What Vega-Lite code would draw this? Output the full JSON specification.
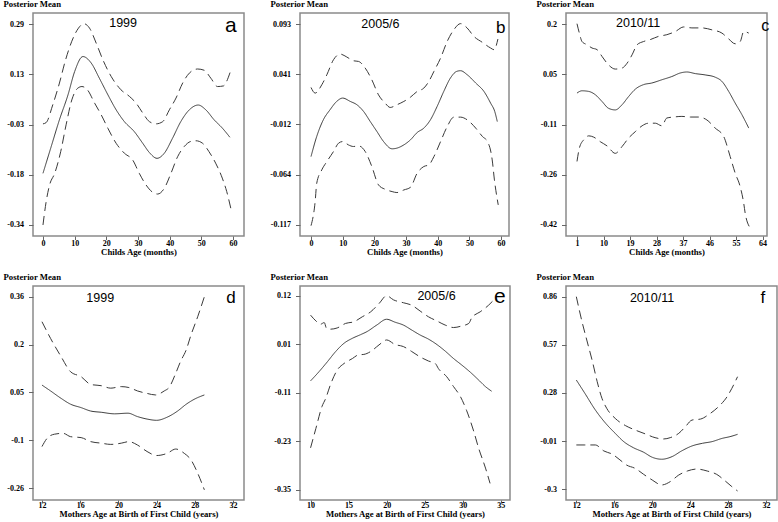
{
 "$schema": "https://vega.github.io/schema/vega-lite/v6.json",
 "background": "white",
 "padding": {"left": 2, "top": -2, "right": 0, "bottom": 0},
 "columns": 3,
 "spacing": {"row": 50, "column": 56},
 "bounds": "flush",
 "config": {
  "view": {"stroke": "#8a8a8a", "strokeWidth": 1.5},
  "axis": {"domain": false, "grid": false, "ticks": true, "tickCount": 20, "tickSize": 4.5, "tickColor": "#666", "labelOverlap": false, "labelFont": "Liberation Serif", "labelFontWeight": "bold", "labelFontSize": 8, "labelColor": "#000", "titleFont": "Liberation Serif", "titleFontWeight": "bold", "titleFontSize": 8.7, "titleColor": "#000"},
  "axisX": {"labelPadding": 0, "titlePadding": 0, "tickSize": 3.5},
  "axisY": {"labelPadding": 5, "titleAngle": 0, "titleAlign": "left", "titleBaseline": "alphabetic", "titleX": -30, "titleY": -6.6}
 },
 "datasets": {
  "a": [
   {"x":0,"y":-0.178,"s":"mean"},{"x":2.6,"y":-0.094,"s":"mean"},{"x":5.2,"y":-0.01,"s":"mean"},{"x":7.9,"y":0.068,"s":"mean"},{"x":10,"y":0.141,"s":"mean"},{"x":12.6,"y":0.188,"s":"mean"},{"x":15.2,"y":0.168,"s":"mean"},{"x":17.8,"y":0.12,"s":"mean"},{"x":20.5,"y":0.068,"s":"mean"},{"x":23.1,"y":0.021,"s":"mean"},{"x":25.7,"y":-0.016,"s":"mean"},{"x":28.8,"y":-0.047,"s":"mean"},{"x":31.5,"y":-0.084,"s":"mean"},{"x":33.6,"y":-0.113,"s":"mean"},{"x":36,"y":-0.131,"s":"mean"},{"x":38.3,"y":-0.115,"s":"mean"},{"x":40.9,"y":-0.068,"s":"mean"},{"x":43.5,"y":-0.016,"s":"mean"},{"x":46.2,"y":0.021,"s":"mean"},{"x":49,"y":0.036,"s":"mean"},{"x":51.4,"y":0.021,"s":"mean"},{"x":54,"y":-0.01,"s":"mean"},{"x":56.6,"y":-0.036,"s":"mean"},{"x":59,"y":-0.065,"s":"mean"},
   {"x":0,"y":-0.023,"s":"upper"},{"x":1,"y":-0.019,"s":"upper"},{"x":3.1,"y":0.037,"s":"upper"},{"x":5.2,"y":0.105,"s":"upper"},{"x":7,"y":0.173,"s":"upper"},{"x":9.1,"y":0.236,"s":"upper"},{"x":11.2,"y":0.277,"s":"upper"},{"x":12.9,"y":0.291,"s":"upper"},{"x":14.7,"y":0.277,"s":"upper"},{"x":16.8,"y":0.23,"s":"upper"},{"x":18.9,"y":0.178,"s":"upper"},{"x":21.5,"y":0.126,"s":"upper"},{"x":24.6,"y":0.084,"s":"upper"},{"x":27.3,"y":0.063,"s":"upper"},{"x":29.4,"y":0.042,"s":"upper"},{"x":31.5,"y":0.011,"s":"upper"},{"x":33.6,"y":-0.016,"s":"upper"},{"x":35.7,"y":-0.023,"s":"upper"},{"x":37.8,"y":-0.016,"s":"upper"},{"x":39.9,"y":0.021,"s":"upper"},{"x":42,"y":0.058,"s":"upper"},{"x":44.1,"y":0.105,"s":"upper"},{"x":46.2,"y":0.136,"s":"upper"},{"x":48.8,"y":0.149,"s":"upper"},{"x":50.9,"y":0.145,"s":"upper"},{"x":53,"y":0.12,"s":"upper"},{"x":55.1,"y":0.094,"s":"upper"},{"x":57,"y":0.096,"s":"upper"},{"x":57.7,"y":0.105,"s":"upper"},{"x":59.3,"y":0.145,"s":"upper"},
   {"x":0,"y":-0.34,"s":"lower"},{"x":1,"y":-0.267,"s":"lower"},{"x":2.1,"y":-0.214,"s":"lower"},{"x":3.7,"y":-0.178,"s":"lower"},{"x":5.6,"y":-0.11,"s":"lower"},{"x":7.3,"y":-0.026,"s":"lower"},{"x":9.1,"y":0.052,"s":"lower"},{"x":11,"y":0.089,"s":"lower"},{"x":12.3,"y":0.094,"s":"lower"},{"x":14,"y":0.084,"s":"lower"},{"x":16.3,"y":0.042,"s":"lower"},{"x":18.4,"y":0.005,"s":"lower"},{"x":20.5,"y":-0.037,"s":"lower"},{"x":23.1,"y":-0.084,"s":"lower"},{"x":25.7,"y":-0.115,"s":"lower"},{"x":28.3,"y":-0.136,"s":"lower"},{"x":30.4,"y":-0.178,"s":"lower"},{"x":32.5,"y":-0.214,"s":"lower"},{"x":34.7,"y":-0.238,"s":"lower"},{"x":36.2,"y":-0.243,"s":"lower"},{"x":38.3,"y":-0.225,"s":"lower"},{"x":40.4,"y":-0.178,"s":"lower"},{"x":42.5,"y":-0.126,"s":"lower"},{"x":44.6,"y":-0.094,"s":"lower"},{"x":46.7,"y":-0.078,"s":"lower"},{"x":48.3,"y":-0.076,"s":"lower"},{"x":50.4,"y":-0.084,"s":"lower"},{"x":52.4,"y":-0.11,"s":"lower"},{"x":54.5,"y":-0.146,"s":"lower"},{"x":56.6,"y":-0.193,"s":"lower"},{"x":58,"y":-0.235,"s":"lower"},{"x":59.3,"y":-0.288,"s":"lower"}
  ],
  "b": [
   {"x":0,"y":-0.0455,"s":"mean"},{"x":1.8,"y":-0.0245,"s":"mean"},{"x":3.9,"y":-0.007,"s":"mean"},{"x":6,"y":0.0034,"s":"mean"},{"x":8.1,"y":0.0121,"s":"mean"},{"x":10,"y":0.0156,"s":"mean"},{"x":12.4,"y":0.0121,"s":"mean"},{"x":14.5,"y":0.0086,"s":"mean"},{"x":16.6,"y":0.0016,"s":"mean"},{"x":18.7,"y":-0.0089,"s":"mean"},{"x":20.8,"y":-0.0193,"s":"mean"},{"x":22.9,"y":-0.0298,"s":"mean"},{"x":25.6,"y":-0.0374,"s":"mean"},{"x":27.1,"y":-0.0367,"s":"mean"},{"x":29.3,"y":-0.0333,"s":"mean"},{"x":31.4,"y":-0.028,"s":"mean"},{"x":33.5,"y":-0.0204,"s":"mean"},{"x":35.6,"y":-0.0158,"s":"mean"},{"x":37.7,"y":-0.0071,"s":"mean"},{"x":39.8,"y":0.0068,"s":"mean"},{"x":41.9,"y":0.0225,"s":"mean"},{"x":44,"y":0.0365,"s":"mean"},{"x":46,"y":0.0435,"s":"mean"},{"x":47.2,"y":0.0442,"s":"mean"},{"x":49.3,"y":0.04,"s":"mean"},{"x":52,"y":0.0313,"s":"mean"},{"x":54.6,"y":0.0225,"s":"mean"},{"x":56.7,"y":0.0103,"s":"mean"},{"x":58,"y":0.0016,"s":"mean"},{"x":58.8,"y":-0.0089,"s":"mean"},
   {"x":0,"y":0.0267,"s":"upper"},{"x":1.3,"y":0.0208,"s":"upper"},{"x":3.4,"y":0.0295,"s":"upper"},{"x":5,"y":0.04,"s":"upper"},{"x":7.1,"y":0.0557,"s":"upper"},{"x":9.2,"y":0.0616,"s":"upper"},{"x":11.3,"y":0.0585,"s":"upper"},{"x":13.4,"y":0.0546,"s":"upper"},{"x":15,"y":0.0539,"s":"upper"},{"x":17.1,"y":0.047,"s":"upper"},{"x":19.2,"y":0.0347,"s":"upper"},{"x":21.3,"y":0.019,"s":"upper"},{"x":23.4,"y":0.0103,"s":"upper"},{"x":25,"y":0.0058,"s":"upper"},{"x":27.1,"y":0.0086,"s":"upper"},{"x":29.3,"y":0.0121,"s":"upper"},{"x":31.4,"y":0.0166,"s":"upper"},{"x":33.5,"y":0.0225,"s":"upper"},{"x":35.6,"y":0.026,"s":"upper"},{"x":37.2,"y":0.033,"s":"upper"},{"x":38.8,"y":0.0435,"s":"upper"},{"x":40.9,"y":0.0574,"s":"upper"},{"x":43,"y":0.0749,"s":"upper"},{"x":45.1,"y":0.0871,"s":"upper"},{"x":47.2,"y":0.0934,"s":"upper"},{"x":49.3,"y":0.0888,"s":"upper"},{"x":51.4,"y":0.0801,"s":"upper"},{"x":54.1,"y":0.0738,"s":"upper"},{"x":56.7,"y":0.0679,"s":"upper"},{"x":57.8,"y":0.0661,"s":"upper"},{"x":59,"y":0.0773,"s":"upper"},
   {"x":0,"y":-0.1177,"s":"lower"},{"x":1.3,"y":-0.0926,"s":"lower"},{"x":1.8,"y":-0.0734,"s":"lower"},{"x":3.4,"y":-0.0594,"s":"lower"},{"x":5,"y":-0.0507,"s":"lower"},{"x":7.1,"y":-0.0402,"s":"lower"},{"x":8.7,"y":-0.0315,"s":"lower"},{"x":10,"y":-0.0298,"s":"lower"},{"x":11.8,"y":-0.0333,"s":"lower"},{"x":13.4,"y":-0.035,"s":"lower"},{"x":15,"y":-0.0343,"s":"lower"},{"x":17.1,"y":-0.0402,"s":"lower"},{"x":19.2,"y":-0.0559,"s":"lower"},{"x":21.3,"y":-0.0751,"s":"lower"},{"x":23.4,"y":-0.0797,"s":"lower"},{"x":25.6,"y":-0.0821,"s":"lower"},{"x":27.1,"y":-0.0831,"s":"lower"},{"x":29.3,"y":-0.0804,"s":"lower"},{"x":31.4,"y":-0.0776,"s":"lower"},{"x":33.5,"y":-0.0629,"s":"lower"},{"x":35.6,"y":-0.0559,"s":"lower"},{"x":37.2,"y":-0.0542,"s":"lower"},{"x":38.8,"y":-0.0455,"s":"lower"},{"x":40.9,"y":-0.0298,"s":"lower"},{"x":43,"y":-0.0141,"s":"lower"},{"x":45.1,"y":-0.0043,"s":"lower"},{"x":47.2,"y":-0.0043,"s":"lower"},{"x":49.3,"y":-0.0071,"s":"lower"},{"x":52,"y":-0.0158,"s":"lower"},{"x":54.1,"y":-0.0245,"s":"lower"},{"x":55.7,"y":-0.0298,"s":"lower"},{"x":57.2,"y":-0.049,"s":"lower"},{"x":57.9,"y":-0.0699,"s":"lower"},{"x":59.1,"y":-0.096,"s":"lower"}
  ],
  "c": [
   {"x":1,"y":-0.013,"s":"mean"},{"x":2.7,"y":-0.006,"s":"mean"},{"x":5,"y":-0.008,"s":"mean"},{"x":7.2,"y":-0.018,"s":"mean"},{"x":9.5,"y":-0.039,"s":"mean"},{"x":11.7,"y":-0.06,"s":"mean"},{"x":14,"y":-0.065,"s":"mean"},{"x":16.3,"y":-0.049,"s":"mean"},{"x":18.5,"y":-0.024,"s":"mean"},{"x":20.8,"y":-0.001,"s":"mean"},{"x":23.6,"y":0.013,"s":"mean"},{"x":26.4,"y":0.018,"s":"mean"},{"x":29.8,"y":0.028,"s":"mean"},{"x":33.2,"y":0.038,"s":"mean"},{"x":36.1,"y":0.049,"s":"mean"},{"x":38.3,"y":0.052,"s":"mean"},{"x":41.2,"y":0.047,"s":"mean"},{"x":44.5,"y":0.043,"s":"mean"},{"x":47.9,"y":0.036,"s":"mean"},{"x":50.2,"y":0.023,"s":"mean"},{"x":52.5,"y":-0.008,"s":"mean"},{"x":54.7,"y":-0.044,"s":"mean"},{"x":57,"y":-0.08,"s":"mean"},{"x":59.3,"y":-0.121,"s":"mean"},
   {"x":1,"y":0.201,"s":"upper"},{"x":1.8,"y":0.172,"s":"upper"},{"x":2.7,"y":0.146,"s":"upper"},{"x":4.4,"y":0.136,"s":"upper"},{"x":6.1,"y":0.126,"s":"upper"},{"x":7.8,"y":0.121,"s":"upper"},{"x":9.5,"y":0.1,"s":"upper"},{"x":11.7,"y":0.074,"s":"upper"},{"x":14,"y":0.061,"s":"upper"},{"x":16.3,"y":0.064,"s":"upper"},{"x":18,"y":0.079,"s":"upper"},{"x":19.7,"y":0.105,"s":"upper"},{"x":21.4,"y":0.136,"s":"upper"},{"x":23.6,"y":0.146,"s":"upper"},{"x":25.9,"y":0.152,"s":"upper"},{"x":28.7,"y":0.162,"s":"upper"},{"x":31.5,"y":0.167,"s":"upper"},{"x":34.4,"y":0.177,"s":"upper"},{"x":37.2,"y":0.191,"s":"upper"},{"x":40,"y":0.188,"s":"upper"},{"x":43.4,"y":0.188,"s":"upper"},{"x":46.8,"y":0.182,"s":"upper"},{"x":50.2,"y":0.172,"s":"upper"},{"x":52.5,"y":0.154,"s":"upper"},{"x":54.7,"y":0.139,"s":"upper"},{"x":56.4,"y":0.146,"s":"upper"},{"x":57.6,"y":0.177,"s":"upper"},{"x":59.3,"y":0.172,"s":"upper"},
   {"x":1,"y":-0.224,"s":"lower"},{"x":1.8,"y":-0.183,"s":"lower"},{"x":3.3,"y":-0.157,"s":"lower"},{"x":5,"y":-0.145,"s":"lower"},{"x":6.7,"y":-0.149,"s":"lower"},{"x":8.9,"y":-0.163,"s":"lower"},{"x":11.2,"y":-0.176,"s":"lower"},{"x":14,"y":-0.199,"s":"lower"},{"x":16.3,"y":-0.178,"s":"lower"},{"x":18.5,"y":-0.152,"s":"lower"},{"x":20.8,"y":-0.132,"s":"lower"},{"x":23.1,"y":-0.114,"s":"lower"},{"x":25.3,"y":-0.106,"s":"lower"},{"x":27.6,"y":-0.106,"s":"lower"},{"x":29.8,"y":-0.114,"s":"lower"},{"x":31.5,"y":-0.09,"s":"lower"},{"x":33.8,"y":-0.087,"s":"lower"},{"x":36.6,"y":-0.085,"s":"lower"},{"x":39.5,"y":-0.087,"s":"lower"},{"x":42.3,"y":-0.087,"s":"lower"},{"x":45.1,"y":-0.096,"s":"lower"},{"x":47.9,"y":-0.121,"s":"lower"},{"x":50.8,"y":-0.147,"s":"lower"},{"x":53,"y":-0.209,"s":"lower"},{"x":54.7,"y":-0.26,"s":"lower"},{"x":56.4,"y":-0.302,"s":"lower"},{"x":57.6,"y":-0.353,"s":"lower"},{"x":58.1,"y":-0.384,"s":"lower"},{"x":59.5,"y":-0.425,"s":"lower"}
  ],
  "d": [
   {"x":12,"y":0.074,"s":"mean"},{"x":12.9,"y":0.055,"s":"mean"},{"x":14,"y":0.031,"s":"mean"},{"x":15,"y":0.012,"s":"mean"},{"x":16.1,"y":0.001,"s":"mean"},{"x":17.1,"y":-0.01,"s":"mean"},{"x":18.2,"y":-0.014,"s":"mean"},{"x":19.6,"y":-0.019,"s":"mean"},{"x":21,"y":-0.017,"s":"mean"},{"x":22,"y":-0.028,"s":"mean"},{"x":23,"y":-0.036,"s":"mean"},{"x":24,"y":-0.04,"s":"mean"},{"x":25.1,"y":-0.03,"s":"mean"},{"x":26.2,"y":-0.01,"s":"mean"},{"x":27.1,"y":0.012,"s":"mean"},{"x":28,"y":0.029,"s":"mean"},{"x":29,"y":0.042,"s":"mean"},
   {"x":12,"y":0.279,"s":"upper"},{"x":12.9,"y":0.225,"s":"upper"},{"x":14,"y":0.166,"s":"upper"},{"x":15,"y":0.117,"s":"upper"},{"x":16.1,"y":0.101,"s":"upper"},{"x":17.1,"y":0.076,"s":"upper"},{"x":18.2,"y":0.072,"s":"upper"},{"x":19.2,"y":0.064,"s":"upper"},{"x":20.3,"y":0.069,"s":"upper"},{"x":21.1,"y":0.066,"s":"upper"},{"x":22,"y":0.055,"s":"upper"},{"x":23,"y":0.047,"s":"upper"},{"x":23.9,"y":0.042,"s":"upper"},{"x":24.8,"y":0.055,"s":"upper"},{"x":25.3,"y":0.066,"s":"upper"},{"x":26,"y":0.112,"s":"upper"},{"x":26.5,"y":0.15,"s":"upper"},{"x":27.1,"y":0.188,"s":"upper"},{"x":27.6,"y":0.236,"s":"upper"},{"x":28.3,"y":0.295,"s":"upper"},{"x":29,"y":0.36,"s":"upper"},
   {"x":12,"y":-0.125,"s":"lower"},{"x":12.6,"y":-0.096,"s":"lower"},{"x":13.3,"y":-0.085,"s":"lower"},{"x":14.2,"y":-0.082,"s":"lower"},{"x":15,"y":-0.093,"s":"lower"},{"x":16.1,"y":-0.096,"s":"lower"},{"x":17.1,"y":-0.109,"s":"lower"},{"x":18.2,"y":-0.114,"s":"lower"},{"x":19.2,"y":-0.118,"s":"lower"},{"x":20.3,"y":-0.114,"s":"lower"},{"x":21.1,"y":-0.109,"s":"lower"},{"x":22,"y":-0.12,"s":"lower"},{"x":23,"y":-0.141,"s":"lower"},{"x":24,"y":-0.154,"s":"lower"},{"x":25.1,"y":-0.147,"s":"lower"},{"x":26,"y":-0.133,"s":"lower"},{"x":26.9,"y":-0.147,"s":"lower"},{"x":27.6,"y":-0.168,"s":"lower"},{"x":28.3,"y":-0.211,"s":"lower"},{"x":29,"y":-0.265,"s":"lower"}
  ],
  "e": [
   {"x":10,"y":-0.082,"s":"mean"},{"x":11.1,"y":-0.06,"s":"mean"},{"x":12.2,"y":-0.036,"s":"mean"},{"x":13.3,"y":-0.011,"s":"mean"},{"x":14.4,"y":0.009,"s":"mean"},{"x":15.5,"y":0.021,"s":"mean"},{"x":16.6,"y":0.03,"s":"mean"},{"x":17.4,"y":0.037,"s":"mean"},{"x":18.7,"y":0.053,"s":"mean"},{"x":20,"y":0.067,"s":"mean"},{"x":21.1,"y":0.06,"s":"mean"},{"x":22.2,"y":0.053,"s":"mean"},{"x":23.3,"y":0.041,"s":"mean"},{"x":24.4,"y":0.029,"s":"mean"},{"x":25.5,"y":0.019,"s":"mean"},{"x":26.6,"y":0.006,"s":"mean"},{"x":27.7,"y":-0.01,"s":"mean"},{"x":28.8,"y":-0.028,"s":"mean"},{"x":29.9,"y":-0.044,"s":"mean"},{"x":31,"y":-0.061,"s":"mean"},{"x":32.1,"y":-0.08,"s":"mean"},{"x":33,"y":-0.096,"s":"mean"},{"x":33.8,"y":-0.107,"s":"mean"},
   {"x":10,"y":0.077,"s":"upper"},{"x":10.7,"y":0.063,"s":"upper"},{"x":11.3,"y":0.055,"s":"upper"},{"x":11.8,"y":0.059,"s":"upper"},{"x":12.1,"y":0.045,"s":"upper"},{"x":12.6,"y":0.043,"s":"upper"},{"x":13.5,"y":0.046,"s":"upper"},{"x":14.6,"y":0.057,"s":"upper"},{"x":15.7,"y":0.061,"s":"upper"},{"x":16.8,"y":0.073,"s":"upper"},{"x":17.9,"y":0.085,"s":"upper"},{"x":19,"y":0.105,"s":"upper"},{"x":20,"y":0.124,"s":"upper"},{"x":20.9,"y":0.114,"s":"upper"},{"x":22.2,"y":0.107,"s":"upper"},{"x":23.3,"y":0.101,"s":"upper"},{"x":24.4,"y":0.087,"s":"upper"},{"x":25.5,"y":0.073,"s":"upper"},{"x":26.6,"y":0.063,"s":"upper"},{"x":27.7,"y":0.053,"s":"upper"},{"x":28.8,"y":0.047,"s":"upper"},{"x":29.9,"y":0.051,"s":"upper"},{"x":30.8,"y":0.057,"s":"upper"},{"x":31.2,"y":0.071,"s":"upper"},{"x":32.3,"y":0.085,"s":"upper"},{"x":33.4,"y":0.101,"s":"upper"},{"x":34.1,"y":0.114,"s":"upper"},
   {"x":10,"y":-0.244,"s":"lower"},{"x":10.7,"y":-0.197,"s":"lower"},{"x":11.5,"y":-0.144,"s":"lower"},{"x":12,"y":-0.124,"s":"lower"},{"x":12.6,"y":-0.092,"s":"lower"},{"x":13.5,"y":-0.056,"s":"lower"},{"x":14.4,"y":-0.04,"s":"lower"},{"x":15.5,"y":-0.028,"s":"lower"},{"x":16.3,"y":-0.019,"s":"lower"},{"x":17,"y":-0.018,"s":"lower"},{"x":17.9,"y":-0.011,"s":"lower"},{"x":19,"y":0.005,"s":"lower"},{"x":20,"y":0.017,"s":"lower"},{"x":21.1,"y":0.006,"s":"lower"},{"x":22.2,"y":0.001,"s":"lower"},{"x":23.3,"y":-0.011,"s":"lower"},{"x":24.4,"y":-0.024,"s":"lower"},{"x":25.5,"y":-0.034,"s":"lower"},{"x":26.4,"y":-0.04,"s":"lower"},{"x":26.8,"y":-0.052,"s":"lower"},{"x":27.9,"y":-0.072,"s":"lower"},{"x":28.8,"y":-0.096,"s":"lower"},{"x":29.7,"y":-0.12,"s":"lower"},{"x":30.5,"y":-0.153,"s":"lower"},{"x":31.4,"y":-0.201,"s":"lower"},{"x":32.1,"y":-0.245,"s":"lower"},{"x":33,"y":-0.293,"s":"lower"},{"x":33.6,"y":-0.33,"s":"lower"}
  ],
  "f": [
   {"x":12,"y":0.358,"s":"mean"},{"x":12.9,"y":0.278,"s":"mean"},{"x":14,"y":0.178,"s":"mean"},{"x":15.1,"y":0.097,"s":"mean"},{"x":16.1,"y":0.037,"s":"mean"},{"x":17,"y":-0.013,"s":"mean"},{"x":18,"y":-0.049,"s":"mean"},{"x":19.1,"y":-0.077,"s":"mean"},{"x":20,"y":-0.107,"s":"mean"},{"x":21,"y":-0.119,"s":"mean"},{"x":22.1,"y":-0.103,"s":"mean"},{"x":23.1,"y":-0.069,"s":"mean"},{"x":24.2,"y":-0.039,"s":"mean"},{"x":25.3,"y":-0.023,"s":"mean"},{"x":26.3,"y":-0.013,"s":"mean"},{"x":27.4,"y":0.007,"s":"mean"},{"x":28.2,"y":0.017,"s":"mean"},{"x":29,"y":0.031,"s":"mean"},
   {"x":12,"y":0.86,"s":"upper"},{"x":12.6,"y":0.709,"s":"upper"},{"x":13.1,"y":0.599,"s":"upper"},{"x":13.7,"y":0.469,"s":"upper"},{"x":14.2,"y":0.348,"s":"upper"},{"x":14.7,"y":0.248,"s":"upper"},{"x":15.2,"y":0.188,"s":"upper"},{"x":16.1,"y":0.127,"s":"upper"},{"x":17.2,"y":0.083,"s":"upper"},{"x":18.2,"y":0.057,"s":"upper"},{"x":19.3,"y":0.033,"s":"upper"},{"x":20.3,"y":0.011,"s":"upper"},{"x":21.2,"y":0.003,"s":"upper"},{"x":21.9,"y":0.011,"s":"upper"},{"x":22.8,"y":0.037,"s":"upper"},{"x":23.5,"y":0.077,"s":"upper"},{"x":24.2,"y":0.117,"s":"upper"},{"x":25.1,"y":0.123,"s":"upper"},{"x":26,"y":0.152,"s":"upper"},{"x":27,"y":0.198,"s":"upper"},{"x":27.9,"y":0.258,"s":"upper"},{"x":28.4,"y":0.308,"s":"upper"},{"x":29,"y":0.378,"s":"upper"},
   {"x":12,"y":-0.033,"s":"lower"},{"x":12.9,"y":-0.033,"s":"lower"},{"x":14,"y":-0.033,"s":"lower"},{"x":14.9,"y":-0.069,"s":"lower"},{"x":15.8,"y":-0.089,"s":"lower"},{"x":16.6,"y":-0.123,"s":"lower"},{"x":17.3,"y":-0.154,"s":"lower"},{"x":18.2,"y":-0.174,"s":"lower"},{"x":19.1,"y":-0.21,"s":"lower"},{"x":20,"y":-0.244,"s":"lower"},{"x":21,"y":-0.274,"s":"lower"},{"x":21.9,"y":-0.254,"s":"lower"},{"x":22.8,"y":-0.214,"s":"lower"},{"x":23.7,"y":-0.19,"s":"lower"},{"x":24.7,"y":-0.178,"s":"lower"},{"x":25.8,"y":-0.19,"s":"lower"},{"x":26.8,"y":-0.21,"s":"lower"},{"x":27.7,"y":-0.25,"s":"lower"},{"x":28.4,"y":-0.284,"s":"lower"},{"x":29,"y":-0.31,"s":"lower"}
  ]
 },
 "concat": [
  {
   "width": 211, "height": 223,
   "layer": [
    {"data": {"name": "a"}, "mark": {"type": "line", "interpolate": "monotone", "color": "#3a3a3a", "strokeWidth": 1},
     "encoding": {
      "x": {"field": "x", "type": "quantitative", "scale": {"domain": [-3.15, 63.46], "nice": false, "zero": false}, "axis": {"values": [0,10,20,30,40,50,60], "title": "Childs Age (months)"}},
      "y": {"field": "y", "type": "quantitative", "scale": {"domain": [-0.3745, 0.3245], "nice": false, "zero": false}, "axis": {"values": [-0.34,-0.1825,-0.0251,0.1325,0.29], "labelExpr": "(datum.value < 0 ? '-' : '') + format(abs(datum.value), '.2~f')", "title": "Posterior Mean"}},
      "strokeDash": {"field": "s", "type": "nominal", "scale": {"domain": ["mean","upper","lower"], "range": [[1,0],[9,5],[9,5]]}, "legend": null}
     }},
    {"data": {"values": [{}]}, "mark": {"type": "text", "font": "Liberation Sans", "fontSize": 12.5, "align": "center", "baseline": "alphabetic"}, "encoding": {"x": {"datum": 25.3}, "y": {"datum": 0.2795}, "text": {"value": "1999"}}},
    {"data": {"values": [{}]}, "mark": {"type": "text", "font": "Liberation Sans", "fontSize": 21, "align": "center", "baseline": "alphabetic"}, "encoding": {"x": {"datum": 59.3}, "y": {"datum": 0.2649}, "text": {"value": "a"}}}
   ]
  },
  {
   "width": 209, "height": 223,
   "layer": [
    {"data": {"name": "b"}, "mark": {"type": "line", "interpolate": "monotone", "color": "#3a3a3a", "strokeWidth": 1},
     "encoding": {
      "x": {"field": "x", "type": "quantitative", "scale": {"domain": [-3.48, 62.5], "nice": false, "zero": false}, "axis": {"values": [0,10,20,30,40,50,60], "title": "Childs Age (months)"}},
      "y": {"field": "y", "type": "quantitative", "scale": {"domain": [-0.1285, 0.1045], "nice": false, "zero": false}, "axis": {"values": [-0.117,-0.0644,-0.012,0.0406,0.093], "labelExpr": "(datum.value < 0 ? '-' : '') + format(abs(datum.value), '.3~f')", "title": "Posterior Mean"}},
      "strokeDash": {"field": "s", "type": "nominal", "scale": {"domain": ["mean","upper","lower"], "range": [[1,0],[5,3],[5,3]]}, "legend": null}
     }},
    {"data": {"values": [{}]}, "mark": {"type": "text", "font": "Liberation Sans", "fontSize": 12.5, "align": "center", "baseline": "alphabetic"}, "encoding": {"x": {"datum": 21.9}, "y": {"datum": 0.0888}, "text": {"value": "2005/6"}}},
    {"data": {"values": [{}]}, "mark": {"type": "text", "font": "Liberation Sans", "fontSize": 17, "align": "center", "baseline": "alphabetic"}, "encoding": {"x": {"datum": 59.9}, "y": {"datum": 0.0839}, "text": {"value": "b"}}}
   ]
  },
  {
   "width": 201, "height": 223,
   "layer": [
    {"data": {"name": "c"}, "mark": {"type": "line", "interpolate": "monotone", "color": "#3a3a3a", "strokeWidth": 1},
     "encoding": {
      "x": {"field": "x", "type": "quantitative", "scale": {"domain": [-2.73, 65.5], "nice": false, "zero": false}, "axis": {"values": [1,10,19,28,37,46,55,64], "title": "Childs Age (months)"}},
      "y": {"field": "y", "type": "quantitative", "scale": {"domain": [-0.454, 0.234], "nice": false, "zero": false}, "axis": {"values": [-0.42,-0.2649,-0.11,0.0451,0.2], "labelExpr": "(datum.value < 0 ? '-' : '') + format(abs(datum.value), '.2~f')", "title": "Posterior Mean"}},
      "strokeDash": {"field": "s", "type": "nominal", "scale": {"domain": ["mean","upper","lower"], "range": [[1,0],[6,4],[6,4]]}, "legend": null}
     }},
    {"data": {"values": [{}]}, "mark": {"type": "text", "font": "Liberation Sans", "fontSize": 12.5, "align": "center", "baseline": "alphabetic"}, "encoding": {"x": {"datum": 21.75}, "y": {"datum": 0.1907}, "text": {"value": "2010/11"}}},
    {"data": {"values": [{}]}, "mark": {"type": "text", "font": "Liberation Sans", "fontSize": 16, "align": "center", "baseline": "alphabetic"}, "encoding": {"x": {"datum": 64.9}, "y": {"datum": 0.177}, "text": {"value": "c"}}}
   ]
  },
  {
   "width": 211, "height": 214,
   "layer": [
    {"data": {"name": "d"}, "mark": {"type": "line", "interpolate": "monotone", "color": "#3a3a3a", "strokeWidth": 1},
     "encoding": {
      "x": {"field": "x", "type": "quantitative", "scale": {"domain": [11.06, 33.15], "nice": false, "zero": false}, "axis": {"values": [12,16,20,24,28,32], "tickSize": 3, "labelPadding": -1.5, "title": "Mothers Age at Birth of First Child (years)"}},
      "y": {"field": "y", "type": "quantitative", "scale": {"domain": [-0.2979, 0.3946], "nice": false, "zero": false}, "axis": {"values": [-0.26,-0.1049,0.05,0.2049,0.36], "labelExpr": "(datum.value < 0 ? '-' : '') + format(abs(datum.value), '.2~f')", "title": "Posterior Mean"}},
      "strokeDash": {"field": "s", "type": "nominal", "scale": {"domain": ["mean","upper","lower"], "range": [[1,0],[9,5],[9,5]]}, "legend": null}
     }},
    {"data": {"values": [{}]}, "mark": {"type": "text", "font": "Liberation Sans", "fontSize": 12.5, "align": "center", "baseline": "alphabetic"}, "encoding": {"x": {"datum": 18.1}, "y": {"datum": 0.3438}, "text": {"value": "1999"}}},
    {"data": {"values": [{}]}, "mark": {"type": "text", "font": "Liberation Sans", "fontSize": 17, "align": "center", "baseline": "alphabetic"}, "encoding": {"x": {"datum": 31.8}, "y": {"datum": 0.3406}, "text": {"value": "d"}}}
   ]
  },
  {
   "width": 210, "height": 214,
   "layer": [
    {"data": {"name": "e"}, "mark": {"type": "line", "interpolate": "monotone", "color": "#3a3a3a", "strokeWidth": 1},
     "encoding": {
      "x": {"field": "x", "type": "quantitative", "scale": {"domain": [8.61, 36.22], "nice": false, "zero": false}, "axis": {"values": [10,15,20,25,30,35], "tickSize": 3, "labelPadding": -1.5, "title": "Mothers Age at Birth of First Child (years)"}},
      "y": {"field": "y", "type": "quantitative", "scale": {"domain": [-0.3702, 0.1475], "nice": false, "zero": false}, "axis": {"values": [-0.346,-0.2285,-0.111,0.0065,0.124], "labelExpr": "(datum.value < 0 ? '-' : '') + format(abs(datum.value), '.2~f')", "title": "Posterior Mean"}},
      "strokeDash": {"field": "s", "type": "nominal", "scale": {"domain": ["mean","upper","lower"], "range": [[1,0],[6,4],[6,4]]}, "legend": null}
     }},
    {"data": {"values": [{}]}, "mark": {"type": "text", "font": "Liberation Sans", "fontSize": 12.5, "align": "center", "baseline": "alphabetic"}, "encoding": {"x": {"datum": 26.56}, "y": {"datum": 0.1135}, "text": {"value": "2005/6"}}},
    {"data": {"values": [{}]}, "mark": {"type": "text", "font": "Liberation Sans", "fontSize": 21, "align": "center", "baseline": "alphabetic"}, "encoding": {"x": {"datum": 34.87}, "y": {"datum": 0.1055}, "text": {"value": "e"}}}
   ]
  },
  {
   "width": 211, "height": 214,
   "layer": [
    {"data": {"name": "f"}, "mark": {"type": "line", "interpolate": "monotone", "color": "#3a3a3a", "strokeWidth": 1},
     "encoding": {
      "x": {"field": "x", "type": "quantitative", "scale": {"domain": [10.91, 33.16], "nice": false, "zero": false}, "axis": {"values": [12,16,20,24,28,32], "tickSize": 3, "labelPadding": -1.5, "title": "Mothers Age at Birth of First Child (years)"}},
      "y": {"field": "y", "type": "quantitative", "scale": {"domain": [-0.3645, 0.9244], "nice": false, "zero": false}, "axis": {"values": [-0.3,-0.01,0.28,0.57,0.86], "labelExpr": "(datum.value < 0 ? '-' : '') + format(abs(datum.value), '.2~f')", "title": "Posterior Mean"}},
      "strokeDash": {"field": "s", "type": "nominal", "scale": {"domain": ["mean","upper","lower"], "range": [[1,0],[7,4],[7,4]]}, "legend": null}
     }},
    {"data": {"values": [{}]}, "mark": {"type": "text", "font": "Liberation Sans", "fontSize": 12.5, "align": "center", "baseline": "alphabetic"}, "encoding": {"x": {"datum": 19.98}, "y": {"datum": 0.83}, "text": {"value": "2010/11"}}},
    {"data": {"values": [{}]}, "mark": {"type": "text", "font": "Liberation Sans", "fontSize": 17, "align": "center", "baseline": "alphabetic"}, "encoding": {"x": {"datum": 31.67}, "y": {"datum": 0.8239}, "text": {"value": "f"}}}
   ]
  }
 ]
}
